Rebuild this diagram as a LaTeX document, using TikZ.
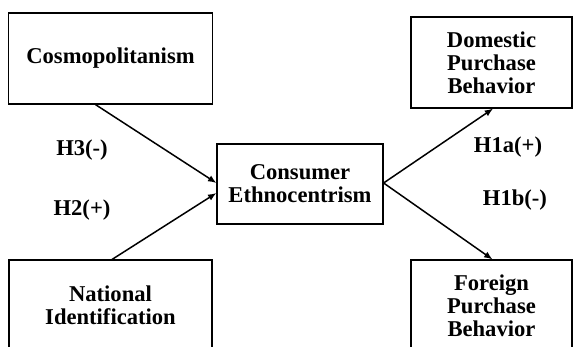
\documentclass[tikz,border=0pt]{standalone}
\usepackage{fontspec}
\setmainfont{Liberation Serif}
\usetikzlibrary{arrows.meta}

\begin{document}
\begin{tikzpicture}[x=0.5pt,y=-0.5pt,
    varbox/.style={draw,line width=0.6pt,align=center,inner sep=0pt,
      font=\bfseries\fontsize{11.3}{11.6}\selectfont},
    hyp/.style={font=\bfseries\fontsize{11.3}{11.6}\selectfont},
    link/.style={-{Latex[length=4.2pt,width=3.4pt]},line width=0.75pt}]
    \useasboundingbox (0,0) rectangle (573,347);
    \clip (0,0) rectangle (573,347);
    \fill [white] (0,0) rectangle (573,347);
    % boxes, left column, then middle, then right column
    \node [varbox,minimum width=102pt,minimum height=45.5pt] (cosmo) at (110.5,58.5) {Cosmopolitanism};
    \node [varbox,minimum width=101.5pt,minimum height=45.5pt] (natid) at (110.5,305.5) {National\\Identification};
    \node [varbox,minimum width=83pt,minimum height=40pt] (ce) at (300,184) {Consumer\\Ethnocentrism};
    \node [varbox,minimum width=80.5pt,minimum height=45.5pt] (dom) at (491.5,62.5) {Domestic\\Purchase\\Behavior};
    \node [varbox,minimum width=80.5pt,minimum height=45.5pt] (for) at (491.5,305.5) {Foreign\\Purchase\\Behavior};
    % hypotheses
    \node [hyp] (h3) at (82,150) {H3(-)};
    \node [hyp] (h2) at (82,210) {H2(+)};
    \node [hyp] (h1a) at (508,147) {H1a(+)};
    \node [hyp] (h1b) at (515,200) {H1b(-)};
    % paths
    \draw [link] ([xshift=-7.5pt]cosmo.south) -- ([yshift=0.5pt]ce.west);
    \draw [link] ([xshift=0.8pt]natid.north) -- ([yshift=-4.5pt]ce.west);
    \draw [link] ([yshift=0.5pt]ce.east) -- ([xshift=0.8pt]dom.south);
    \draw [link] ([yshift=0.5pt]ce.east) -- ([xshift=0.5pt]for.north);
\end{tikzpicture}
\end{document}
